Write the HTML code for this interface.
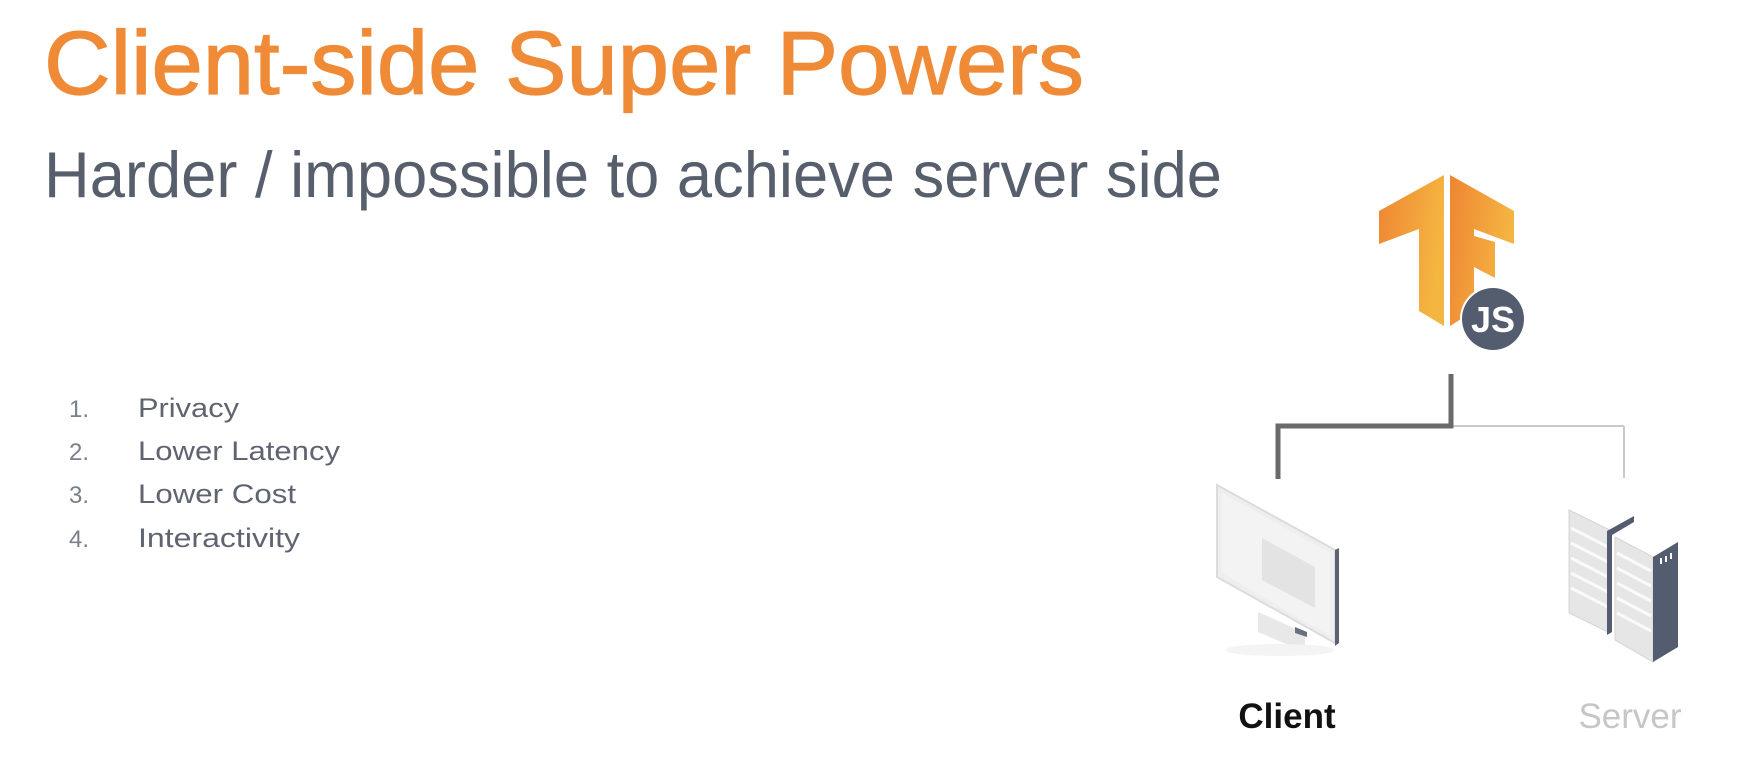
<!DOCTYPE html>
<html><head><meta charset="utf-8"><style>
html,body{margin:0;padding:0;background:#fff;}
svg{display:block;}
text{font-family:"Liberation Sans",sans-serif;}
</style></head><body>
<svg width="1742" height="780" viewBox="0 0 1742 780" xmlns="http://www.w3.org/2000/svg">
<defs>
<linearGradient id="tf" x1="0" y1="0" x2="1" y2="0.3">
<stop offset="0" stop-color="#EE8533"/><stop offset="1" stop-color="#F5B641"/>
</linearGradient>
</defs>
<text x="44" y="94" font-size="90" fill="#EF8A37" stroke="#EF8A37" stroke-width="1.2" textLength="1040" lengthAdjust="spacingAndGlyphs">Client-side Super Powers</text>
<text x="44" y="197" font-size="65" fill="#575E6C" textLength="1178" lengthAdjust="spacingAndGlyphs">Harder / impossible to achieve server side</text>
<g font-size="27" fill="#5F6470">
<text x="69" y="417" fill="#7a7f88" font-size="24">1.</text><text x="138" y="417" textLength="101" lengthAdjust="spacingAndGlyphs">Privacy</text>
<text x="69" y="460" fill="#7a7f88" font-size="24">2.</text><text x="138" y="460" textLength="202" lengthAdjust="spacingAndGlyphs">Lower Latency</text>
<text x="69" y="503" fill="#7a7f88" font-size="24">3.</text><text x="138" y="503" textLength="158" lengthAdjust="spacingAndGlyphs">Lower Cost</text>
<text x="69" y="547" fill="#7a7f88" font-size="24">4.</text><text x="138" y="547" textLength="162" lengthAdjust="spacingAndGlyphs">Interactivity</text>
</g>
<!-- TF logo -->
<polygon points="1379,211 1444,175 1444,326 1419,311 1419,229 1379,244" fill="url(#tf)"/>
<polygon points="1450,175 1514,211 1514,244 1474,229 1474,236 1495,242 1495,278 1474,267 1474,311 1450,326" fill="url(#tf)"/>
<circle cx="1493" cy="319" r="33" fill="#fff"/>
<circle cx="1493" cy="319" r="31" fill="#545C70"/>
<text x="1493" y="332" font-size="36" font-weight="bold" fill="#fff" text-anchor="middle">JS</text>
<!-- connectors -->
<line x1="1450" y1="426" x2="1624" y2="426" stroke="#c9c9c9" stroke-width="2"/>
<line x1="1624" y1="426" x2="1624" y2="478" stroke="#c9c9c9" stroke-width="2"/>
<polyline points="1451,374 1451,426 1278,426 1278,479" fill="none" stroke="#6a6a6a" stroke-width="5"/>
<!-- monitor -->
<polygon points="1258,612 1305,633 1305,652 1258,632" fill="#e8e8e8"/>
<polygon points="1295,627 1307,632 1307,637 1295,633" fill="#6b7080"/>
<polygon points="1217,485 1335,550 1335,643 1217,577" fill="#eeeeee" stroke="#dcdcdc" stroke-width="2"/>
<polygon points="1222,493 1330,553 1330,636 1222,573" fill="#f3f3f3"/>
<polygon points="1262,538 1315,567 1315,608 1262,580" fill="#e3e3e3"/>
<polygon points="1335,550 1339,548 1339,643 1335,646" fill="#5b6172"/>
<ellipse cx="1280" cy="650" rx="55" ry="6" fill="#f4f4f4"/>
<!-- server -->
<polygon points="1569,510 1610,530 1610,633 1569,613" fill="#e6e6e6" stroke="#d4d4d4"/>
<g stroke="#fafafa" stroke-width="3">
<line x1="1571" y1="528" x2="1608" y2="547"/><line x1="1571" y1="543" x2="1608" y2="562"/><line x1="1571" y1="558" x2="1608" y2="577"/><line x1="1571" y1="573" x2="1608" y2="592"/><line x1="1571" y1="588" x2="1608" y2="607"/>
</g>
<polygon points="1607,531 1634,516 1634,522 1612,535 1612,632 1607,635" fill="#545C70"/>
<polygon points="1615,537 1653,557 1653,662 1615,640" fill="#e6e6e6" stroke="#d4d4d4"/>
<g stroke="#fafafa" stroke-width="3">
<line x1="1617" y1="553" x2="1651" y2="571"/><line x1="1617" y1="568" x2="1651" y2="586"/><line x1="1617" y1="583" x2="1651" y2="601"/><line x1="1617" y1="598" x2="1651" y2="616"/><line x1="1617" y1="613" x2="1651" y2="631"/>
</g>
<polygon points="1653,557 1678,542 1678,647 1653,662" fill="#545C70"/>
<rect x="1660" y="558" width="2" height="6" fill="#fff"/><rect x="1665" y="556" width="2" height="6" fill="#fff"/><rect x="1670" y="553" width="2" height="6" fill="#fff"/>
<text x="1287" y="728" font-size="35" font-weight="bold" fill="#111" text-anchor="middle">Client</text>
<text x="1630" y="728" font-size="35" fill="#c6c6c6" text-anchor="middle">Server</text>
</svg>
</body></html>
